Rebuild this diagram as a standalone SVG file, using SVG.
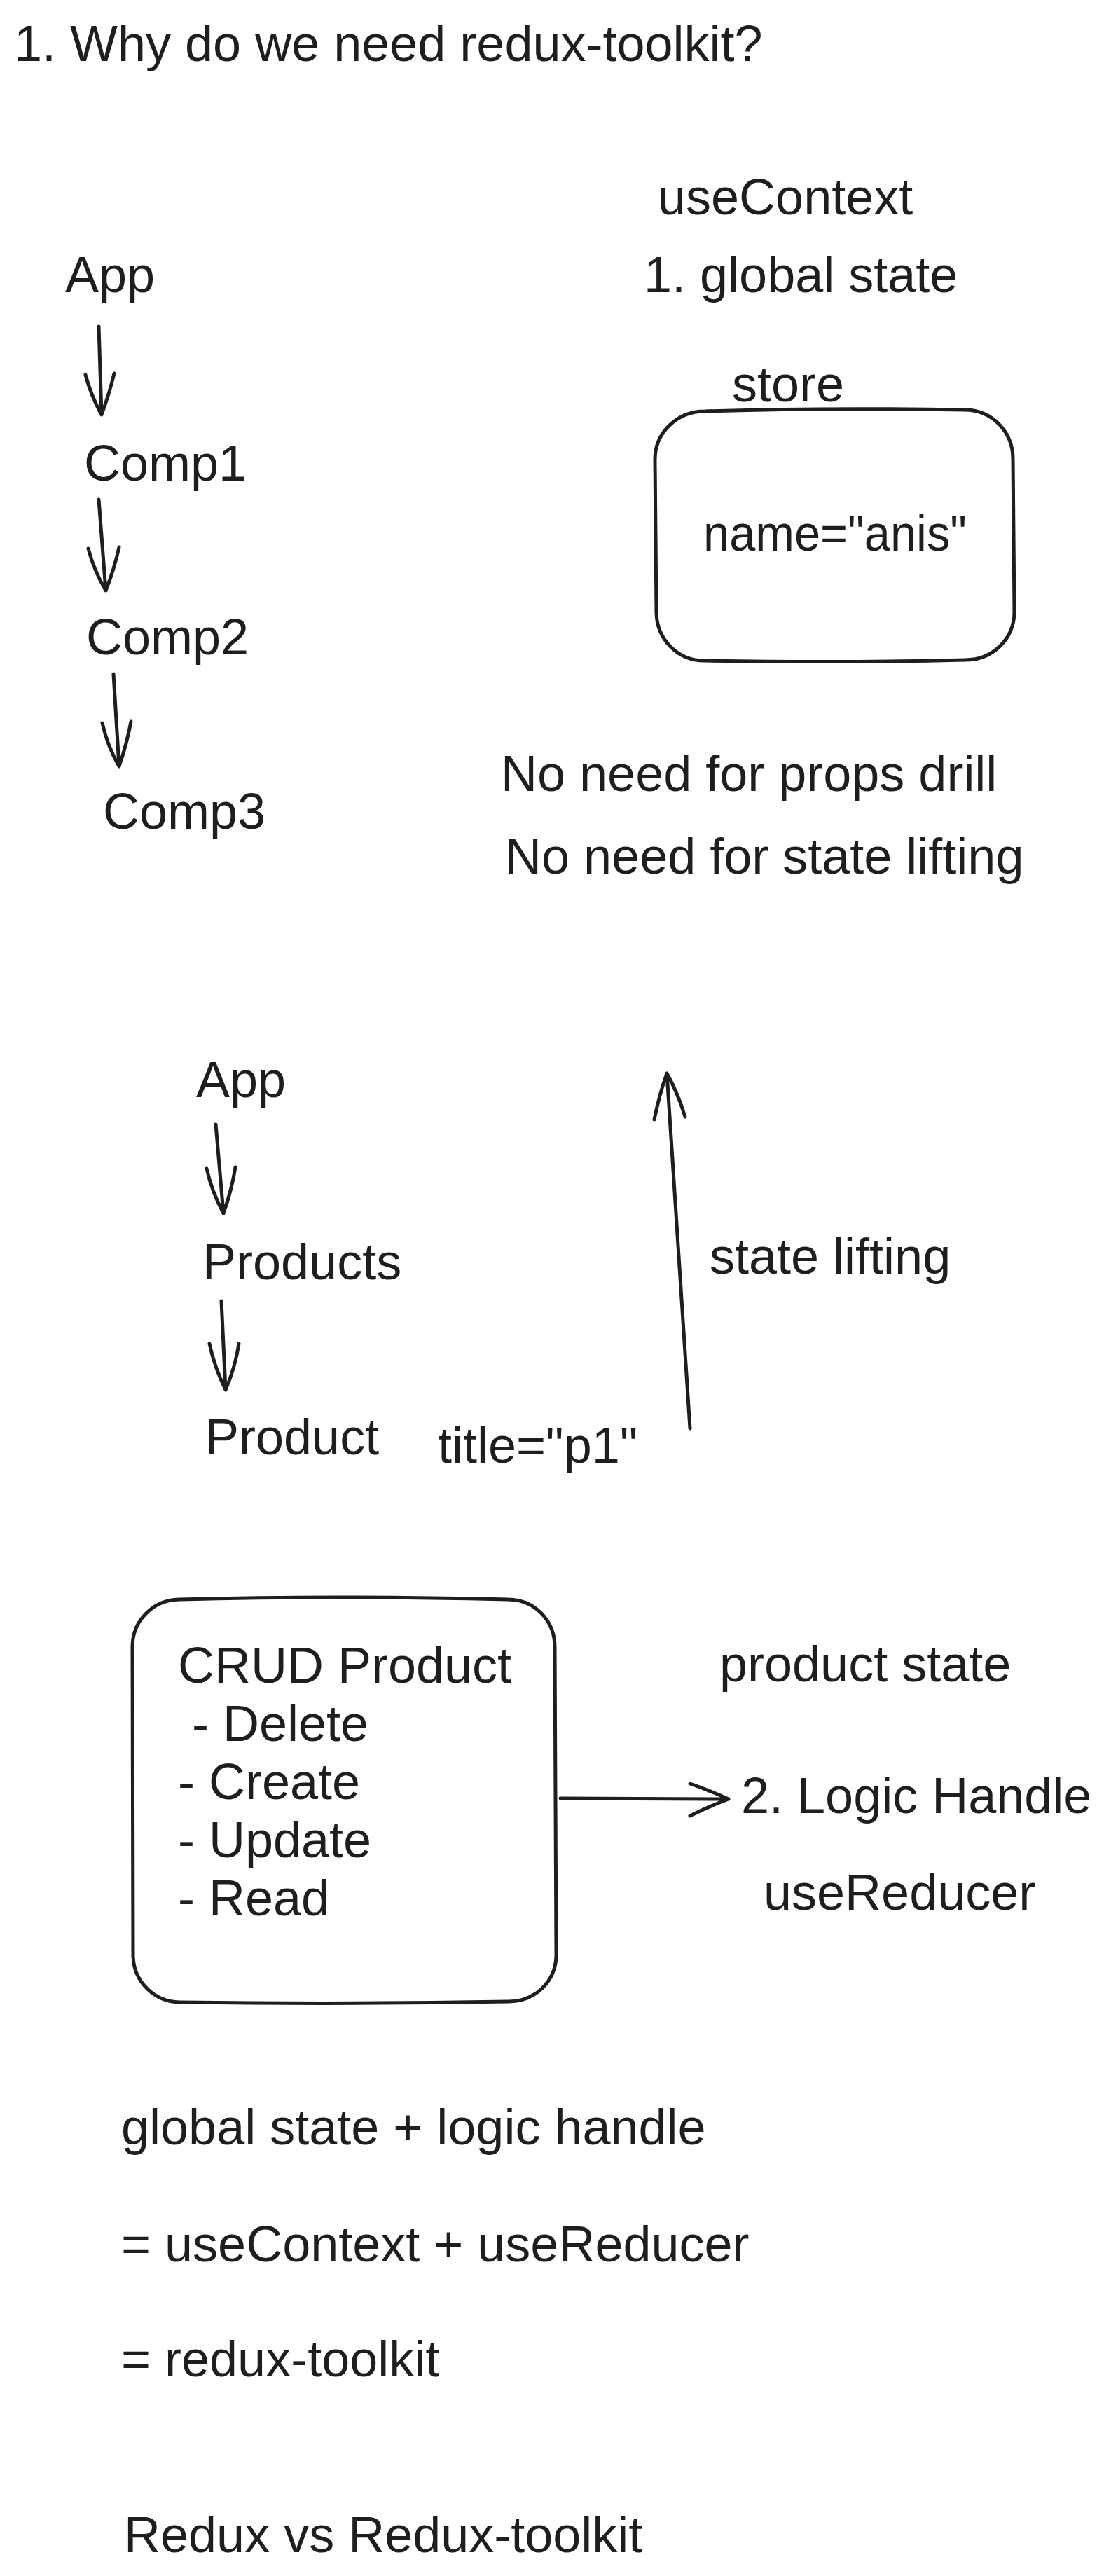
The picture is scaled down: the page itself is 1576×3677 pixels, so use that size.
<svg xmlns="http://www.w3.org/2000/svg" width="1576" height="3677" viewBox="0 0 1576 3677">
<style>
text{font-family:"Liberation Sans",Helvetica,Arial,sans-serif;font-size:72px;fill:#1e1e1e}
.ln{fill:none;stroke:#1e1e1e;stroke-width:5;stroke-linecap:round;stroke-linejoin:round}
</style>
<rect width="1576" height="3677" fill="#ffffff"/>
<g id="title"><text x="20" y="87">1. Why do we need redux-toolkit?</text></g>
<g id="useContext"><text x="939" y="306">useContext</text></g>
<g id="global-state"><text x="919" y="417">1. global state</text></g>
<g id="app1"><text x="93" y="417">App</text></g>
<g id="comp1"><text x="120" y="686">Comp1</text></g>
<g id="comp2"><text x="123" y="934">Comp2</text></g>
<g id="comp3"><text x="147" y="1183">Comp3</text></g>
<g id="store">
<text x="1045" y="573">store</text>
<path class="ln" d="M1006,587 C1130,583 1260,583 1377,585 C1416,585 1446,616 1446,655 L1448,873 C1448,912 1417,942 1378,942 C1260,945 1120,945 1006,943 C967,943 937,912 937,873 L935,656 C935,617 967,587 1006,587 Z"/>
<text x="1004" y="786" textLength="376" lengthAdjust="spacingAndGlyphs">name="anis"</text>
</g>
<g id="no-props"><text x="715" y="1129">No need for props drill</text></g>
<g id="no-lifting"><text x="721" y="1247">No need for state lifting</text></g>
<g id="app2"><text x="280" y="1566">App</text></g>
<g id="products"><text x="289" y="1826">Products</text></g>
<g id="product"><text x="293" y="2076">Product</text></g>
<g id="title-p1"><text x="625" y="2088">title="p1"</text></g>
<g id="state-lifting"><text x="1013" y="1818">state lifting</text></g>
<g id="crud">
<path class="ln" d="M257,2283 C400,2279 560,2279 725,2283 C763,2283 792,2313 792,2351 L794,2790 C794,2828 764,2857 726,2857 C560,2860 400,2860 258,2858 C220,2858 190,2828 190,2790 L189,2351 C189,2313 219,2283 257,2283 Z"/>
<text x="254" y="2402">CRUD Product</text>
<text x="274" y="2485">- Delete</text>
<text x="254" y="2568">- Create</text>
<text x="254" y="2651">- Update</text>
<text x="254" y="2734">- Read</text>
</g>
<g id="product-state"><text x="1027" y="2400">product state</text></g>
<g id="logic-handle"><text x="1058" y="2588">2. Logic Handle</text></g>
<g id="useReducer"><text x="1090" y="2726">useReducer</text></g>
<g id="sum1"><text x="173" y="3061">global state + logic handle</text></g>
<g id="sum2"><text x="173" y="3228">= useContext + useReducer</text></g>
<g id="sum3"><text x="173" y="3392">= redux-toolkit</text></g>
<g id="redux-vs"><text x="177" y="3643">Redux vs Redux-toolkit</text></g>
<g id="connectors">
<path class="ln" d="M141,466 L145,592 M122,535 Q130,565 145,592 Q156,562 163,533"/>
<path class="ln" d="M141,713 L151,843 M126,783 Q134,814 151,843 Q163,813 170,781"/>
<path class="ln" d="M162,962 L170,1094 M146,1032 Q153,1064 170,1094 Q181,1062 187,1030"/>
<path class="ln" d="M308,1605 L319,1732 M295,1668 Q302,1700 319,1732 Q331,1698 336,1666"/>
<path class="ln" d="M316,1857 L322,1984 M299,1918 Q306,1951 322,1984 Q336,1951 341,1918"/>
<path class="ln" d="M985,2039 L952,1532 M934,1598 Q941,1563 952,1532 Q968,1561 978,1594"/>
<path class="ln" d="M800,2567 L1040,2568 M985,2546 Q1014,2556 1040,2568 Q1013,2578 985,2592"/>
</g>
</svg>
